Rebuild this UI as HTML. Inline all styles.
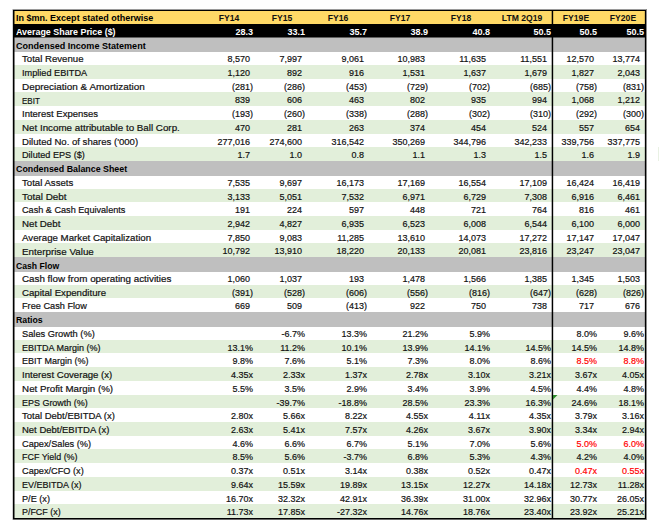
<!DOCTYPE html>
<html><head><meta charset="utf-8"><style>
html,body{margin:0;padding:0;background:#fff;width:661px;height:529px;overflow:hidden}
body{position:relative;font-family:"Liberation Sans",sans-serif;color:#111}
.lab,.num{-webkit-text-stroke:0.2px currentColor}
.bg{position:absolute;left:14.00px;width:631.00px}
.r{position:absolute;left:14.00px;width:631.00px;height:13.73px}
.r div{position:absolute;white-space:nowrap;line-height:13.73px}
.lab{left:8.10px;font-size:9.75px;top:1.05px;transform-origin:0 50%}
.sl{left:2.00px;font-size:9.90px;letter-spacing:0.00px;font-weight:bold;top:1.30px;transform:scaleX(0.915);transform-origin:0 50%}
.c{text-align:center;font-size:9.90px;font-weight:bold;top:1.30px;width:60px;transform:scaleX(0.87)}
.bn{text-align:right;font-size:9.90px;font-weight:bold;top:1.30px;width:70px;color:#fff;transform:scaleX(0.915);transform-origin:100% 50%}
.num{text-align:right;width:70px;font-size:9.90px;transform:scaleX(0.910);transform-origin:100% 50%;top:1.00px}
.red{color:#FF0000}
</style></head><body>

<div class="bg" style="top:10.08px;height:13.73px;background:#FFD966"></div>
<div class="bg" style="top:23.81px;height:13.73px;background:#000000"></div>
<div class="bg" style="top:51.27px;height:13.73px;background:#FFFFFF"></div>
<div class="bg" style="top:65.00px;height:13.73px;background:#E2EFDA"></div>
<div class="bg" style="top:78.73px;height:13.73px;background:#FFFFFF"></div>
<div class="bg" style="top:92.46px;height:13.73px;background:#E2EFDA"></div>
<div class="bg" style="top:106.19px;height:13.73px;background:#FFFFFF"></div>
<div class="bg" style="top:119.92px;height:13.73px;background:#E2EFDA"></div>
<div class="bg" style="top:133.65px;height:13.73px;background:#FFFFFF"></div>
<div class="bg" style="top:147.38px;height:13.73px;background:#E2EFDA"></div>
<div class="bg" style="top:174.84px;height:13.73px;background:#FFFFFF"></div>
<div class="bg" style="top:188.57px;height:13.73px;background:#E2EFDA"></div>
<div class="bg" style="top:202.30px;height:13.73px;background:#FFFFFF"></div>
<div class="bg" style="top:216.03px;height:13.73px;background:#E2EFDA"></div>
<div class="bg" style="top:229.76px;height:13.73px;background:#FFFFFF"></div>
<div class="bg" style="top:243.49px;height:13.73px;background:#E2EFDA"></div>
<div class="bg" style="top:270.95px;height:13.73px;background:#FFFFFF"></div>
<div class="bg" style="top:284.68px;height:13.73px;background:#E2EFDA"></div>
<div class="bg" style="top:298.41px;height:13.73px;background:#FFFFFF"></div>
<div class="bg" style="top:325.87px;height:13.73px;background:#FFFFFF"></div>
<div class="bg" style="top:339.60px;height:13.73px;background:#E2EFDA"></div>
<div class="bg" style="top:353.33px;height:13.73px;background:#FFFFFF"></div>
<div class="bg" style="top:367.06px;height:13.73px;background:#E2EFDA"></div>
<div class="bg" style="top:380.79px;height:13.73px;background:#FFFFFF"></div>
<div class="bg" style="top:394.52px;height:13.73px;background:#E2EFDA"></div>
<div class="bg" style="top:408.25px;height:13.73px;background:#FFFFFF"></div>
<div class="bg" style="top:421.98px;height:13.73px;background:#E2EFDA"></div>
<div class="bg" style="top:435.71px;height:13.73px;background:#FFFFFF"></div>
<div class="bg" style="top:449.44px;height:13.73px;background:#E2EFDA"></div>
<div class="bg" style="top:463.17px;height:13.73px;background:#FFFFFF"></div>
<div class="bg" style="top:476.90px;height:13.73px;background:#E2EFDA"></div>
<div class="bg" style="top:490.63px;height:13.73px;background:#FFFFFF"></div>
<div class="bg" style="top:504.36px;height:13.73px;background:#E2EFDA"></div>
<div class="bg" style="top:37.14px;height:14.83px;background:#BFBFBF"></div>
<div class="bg" style="top:160.71px;height:14.83px;background:#BFBFBF"></div>
<div class="bg" style="top:256.82px;height:14.83px;background:#BFBFBF"></div>
<div class="bg" style="top:311.74px;height:14.83px;background:#BFBFBF"></div>
<div class="r" style="top:10.08px">
<div class="sl" style="color:#000;transform:scaleX(0.913)">In $mn. Except stated otherwise</div>
<div class="c" style="left:184.80px">FY14</div>
<div class="c" style="left:237.90px">FY15</div>
<div class="c" style="left:294.40px">FY16</div>
<div class="c" style="left:355.70px">FY17</div>
<div class="c" style="left:416.85px">FY18</div>
<div class="c" style="left:478.30px">LTM 2Q19</div>
<div class="c" style="left:532.10px">FY19E</div>
<div class="c" style="left:578.65px">FY20E</div>
</div>
<div class="r" style="top:23.81px">
<div class="sl" style="color:#fff;transform:scaleX(0.901)">Average Share Price ($)</div>
<div class="bn" style="left:169.20px">28.3</div>
<div class="bn" style="left:221.30px">33.1</div>
<div class="bn" style="left:283.20px">35.7</div>
<div class="bn" style="left:344.30px">38.9</div>
<div class="bn" style="left:405.50px">40.8</div>
<div class="bn" style="left:466.60px">50.5</div>
<div class="bn" style="left:513.20px">50.5</div>
<div class="bn" style="left:560.00px">50.5</div>
</div>
<div class="r" style="top:37.54px">
<div class="sl" style="color:#000;transform:scaleX(0.916)">Condensed Income Statement</div>
</div>
<div class="r" style="top:51.27px">
<div class="lab" style="transform:scaleX(0.987)">Total Revenue</div>
<div class="num" style="left:165.60px">8,570</div>
<div class="num" style="left:217.70px">7,997</div>
<div class="num" style="left:279.60px">9,061</div>
<div class="num" style="left:340.70px">10,983</div>
<div class="num" style="left:401.90px">11,635</div>
<div class="num" style="left:463.00px">11,551</div>
<div class="num" style="left:509.60px">12,570</div>
<div class="num" style="left:556.40px">13,774</div>
</div>
<div class="r" style="top:65.00px">
<div class="lab" style="transform:scaleX(0.940)">Implied EBITDA</div>
<div class="num" style="left:165.60px">1,120</div>
<div class="num" style="left:217.70px">892</div>
<div class="num" style="left:279.60px">916</div>
<div class="num" style="left:340.70px">1,531</div>
<div class="num" style="left:401.90px">1,637</div>
<div class="num" style="left:463.00px">1,679</div>
<div class="num" style="left:509.60px">1,827</div>
<div class="num" style="left:556.40px">2,043</div>
</div>
<div class="r" style="top:78.73px">
<div class="lab" style="transform:scaleX(1.020)">Depreciation &amp; Amortization</div>
<div class="num" style="left:169.20px">(281)</div>
<div class="num" style="left:221.30px">(286)</div>
<div class="num" style="left:283.20px">(453)</div>
<div class="num" style="left:344.30px">(729)</div>
<div class="num" style="left:405.50px">(702)</div>
<div class="num" style="left:466.60px">(685)</div>
<div class="num" style="left:513.20px">(758)</div>
<div class="num" style="left:560.00px">(831)</div>
</div>
<div class="r" style="top:92.46px">
<div class="lab" style="transform:scaleX(0.821)">EBIT</div>
<div class="num" style="left:165.60px">839</div>
<div class="num" style="left:217.70px">606</div>
<div class="num" style="left:279.60px">463</div>
<div class="num" style="left:340.70px">802</div>
<div class="num" style="left:401.90px">935</div>
<div class="num" style="left:463.00px">994</div>
<div class="num" style="left:509.60px">1,068</div>
<div class="num" style="left:556.40px">1,212</div>
</div>
<div class="r" style="top:106.19px">
<div class="lab" style="transform:scaleX(0.975)">Interest Expenses</div>
<div class="num" style="left:169.20px">(193)</div>
<div class="num" style="left:221.30px">(260)</div>
<div class="num" style="left:283.20px">(338)</div>
<div class="num" style="left:344.30px">(288)</div>
<div class="num" style="left:405.50px">(302)</div>
<div class="num" style="left:466.60px">(310)</div>
<div class="num" style="left:513.20px">(292)</div>
<div class="num" style="left:560.00px">(300)</div>
</div>
<div class="r" style="top:119.92px">
<div class="lab" style="transform:scaleX(1.004)">Net Income attributable to Ball Corp.</div>
<div class="num" style="left:165.60px">470</div>
<div class="num" style="left:217.70px">281</div>
<div class="num" style="left:279.60px">263</div>
<div class="num" style="left:340.70px">374</div>
<div class="num" style="left:401.90px">454</div>
<div class="num" style="left:463.00px">524</div>
<div class="num" style="left:509.60px">557</div>
<div class="num" style="left:556.40px">654</div>
</div>
<div class="r" style="top:133.65px">
<div class="lab" style="transform:scaleX(0.981)">Diluted No. of shares ('000)</div>
<div class="num" style="left:165.60px">277,016</div>
<div class="num" style="left:217.70px">274,600</div>
<div class="num" style="left:279.60px">316,542</div>
<div class="num" style="left:340.70px">350,269</div>
<div class="num" style="left:401.90px">344,796</div>
<div class="num" style="left:463.00px">342,233</div>
<div class="num" style="left:509.60px">339,756</div>
<div class="num" style="left:556.40px">337,775</div>
</div>
<div class="r" style="top:147.38px">
<div class="lab" style="transform:scaleX(0.936)">Diluted EPS ($)</div>
<div class="num" style="left:165.60px">1.7</div>
<div class="num" style="left:217.70px">1.0</div>
<div class="num" style="left:279.60px">0.8</div>
<div class="num" style="left:340.70px">1.1</div>
<div class="num" style="left:401.90px">1.3</div>
<div class="num" style="left:463.00px">1.5</div>
<div class="num" style="left:509.60px">1.6</div>
<div class="num" style="left:556.40px">1.9</div>
</div>
<div class="r" style="top:161.11px">
<div class="sl" style="color:#000;transform:scaleX(0.896)">Condensed Balance Sheet</div>
</div>
<div class="r" style="top:174.84px">
<div class="lab" style="transform:scaleX(0.986)">Total Assets</div>
<div class="num" style="left:165.60px">7,535</div>
<div class="num" style="left:217.70px">9,697</div>
<div class="num" style="left:279.60px">16,173</div>
<div class="num" style="left:340.70px">17,169</div>
<div class="num" style="left:401.90px">16,554</div>
<div class="num" style="left:463.00px">17,109</div>
<div class="num" style="left:509.60px">16,424</div>
<div class="num" style="left:556.40px">16,419</div>
</div>
<div class="r" style="top:188.57px">
<div class="lab" style="transform:scaleX(1.014)">Total Debt</div>
<div class="num" style="left:165.60px">3,133</div>
<div class="num" style="left:217.70px">5,051</div>
<div class="num" style="left:279.60px">7,532</div>
<div class="num" style="left:340.70px">6,971</div>
<div class="num" style="left:401.90px">6,729</div>
<div class="num" style="left:463.00px">7,308</div>
<div class="num" style="left:509.60px">6,916</div>
<div class="num" style="left:556.40px">6,461</div>
</div>
<div class="r" style="top:202.30px">
<div class="lab" style="transform:scaleX(0.935)">Cash &amp; Cash Equivalents</div>
<div class="num" style="left:165.60px">191</div>
<div class="num" style="left:217.70px">224</div>
<div class="num" style="left:279.60px">597</div>
<div class="num" style="left:340.70px">448</div>
<div class="num" style="left:401.90px">721</div>
<div class="num" style="left:463.00px">764</div>
<div class="num" style="left:509.60px">816</div>
<div class="num" style="left:556.40px">461</div>
</div>
<div class="r" style="top:216.03px">
<div class="lab" style="transform:scaleX(0.998)">Net Debt</div>
<div class="num" style="left:165.60px">2,942</div>
<div class="num" style="left:217.70px">4,827</div>
<div class="num" style="left:279.60px">6,935</div>
<div class="num" style="left:340.70px">6,523</div>
<div class="num" style="left:401.90px">6,008</div>
<div class="num" style="left:463.00px">6,544</div>
<div class="num" style="left:509.60px">6,100</div>
<div class="num" style="left:556.40px">6,000</div>
</div>
<div class="r" style="top:229.76px">
<div class="lab" style="transform:scaleX(0.994)">Average Market Capitalization</div>
<div class="num" style="left:165.60px">7,850</div>
<div class="num" style="left:217.70px">9,083</div>
<div class="num" style="left:279.60px">11,285</div>
<div class="num" style="left:340.70px">13,610</div>
<div class="num" style="left:401.90px">14,073</div>
<div class="num" style="left:463.00px">17,272</div>
<div class="num" style="left:509.60px">17,147</div>
<div class="num" style="left:556.40px">17,047</div>
</div>
<div class="r" style="top:243.49px">
<div class="lab" style="transform:scaleX(1.006)">Enterprise Value</div>
<div class="num" style="left:165.60px">10,792</div>
<div class="num" style="left:217.70px">13,910</div>
<div class="num" style="left:279.60px">18,220</div>
<div class="num" style="left:340.70px">20,133</div>
<div class="num" style="left:401.90px">20,081</div>
<div class="num" style="left:463.00px">23,816</div>
<div class="num" style="left:509.60px">23,247</div>
<div class="num" style="left:556.40px">23,047</div>
</div>
<div class="r" style="top:257.22px">
<div class="sl" style="color:#000;transform:scaleX(0.873)">Cash Flow</div>
</div>
<div class="r" style="top:270.95px">
<div class="lab" style="transform:scaleX(1.006)">Cash flow from operating activities</div>
<div class="num" style="left:165.60px">1,060</div>
<div class="num" style="left:217.70px">1,037</div>
<div class="num" style="left:279.60px">193</div>
<div class="num" style="left:340.70px">1,478</div>
<div class="num" style="left:401.90px">1,566</div>
<div class="num" style="left:463.00px">1,385</div>
<div class="num" style="left:509.60px">1,345</div>
<div class="num" style="left:556.40px">1,503</div>
</div>
<div class="r" style="top:284.68px">
<div class="lab" style="transform:scaleX(0.988)">Capital Expenditure</div>
<div class="num" style="left:169.20px">(391)</div>
<div class="num" style="left:221.30px">(528)</div>
<div class="num" style="left:283.20px">(606)</div>
<div class="num" style="left:344.30px">(556)</div>
<div class="num" style="left:405.50px">(816)</div>
<div class="num" style="left:466.60px">(647)</div>
<div class="num" style="left:513.20px">(628)</div>
<div class="num" style="left:560.00px">(826)</div>
</div>
<div class="r" style="top:298.41px">
<div class="lab" style="transform:scaleX(0.942)">Free Cash Flow</div>
<div class="num" style="left:165.60px">669</div>
<div class="num" style="left:217.70px">509</div>
<div class="num" style="left:283.20px">(413)</div>
<div class="num" style="left:340.70px">922</div>
<div class="num" style="left:401.90px">750</div>
<div class="num" style="left:463.00px">738</div>
<div class="num" style="left:509.60px">717</div>
<div class="num" style="left:556.40px">676</div>
</div>
<div class="r" style="top:312.14px">
<div class="sl" style="color:#000;transform:scaleX(0.886)">Ratios</div>
</div>
<div class="r" style="top:325.87px">
<div class="lab" style="transform:scaleX(0.952)">Sales Growth (%)</div>
<div class="num" style="left:221.30px">-6.7%</div>
<div class="num" style="left:283.20px">13.3%</div>
<div class="num" style="left:344.30px">21.2%</div>
<div class="num" style="left:405.50px">5.9%</div>
<div class="num" style="left:513.20px">8.0%</div>
<div class="num" style="left:560.00px">9.6%</div>
</div>
<div class="r" style="top:339.60px">
<div class="lab" style="transform:scaleX(0.924)">EBITDA Margin (%)</div>
<div class="num" style="left:169.20px">13.1%</div>
<div class="num" style="left:221.30px">11.2%</div>
<div class="num" style="left:283.20px">10.1%</div>
<div class="num" style="left:344.30px">13.9%</div>
<div class="num" style="left:405.50px">14.1%</div>
<div class="num" style="left:466.60px">14.5%</div>
<div class="num" style="left:513.20px">14.5%</div>
<div class="num" style="left:560.00px">14.8%</div>
</div>
<div class="r" style="top:353.33px">
<div class="lab" style="transform:scaleX(0.925)">EBIT Margin (%)</div>
<div class="num" style="left:169.20px">9.8%</div>
<div class="num" style="left:221.30px">7.6%</div>
<div class="num" style="left:283.20px">5.1%</div>
<div class="num" style="left:344.30px">7.3%</div>
<div class="num" style="left:405.50px">8.0%</div>
<div class="num" style="left:466.60px">8.6%</div>
<div class="num red" style="left:513.20px">8.5%</div>
<div class="num red" style="left:560.00px">8.8%</div>
</div>
<div class="r" style="top:367.06px">
<div class="lab" style="transform:scaleX(0.986)">Interest Coverage (x)</div>
<div class="num" style="left:169.20px">4.35x</div>
<div class="num" style="left:221.30px">2.33x</div>
<div class="num" style="left:283.20px">1.37x</div>
<div class="num" style="left:344.30px">2.78x</div>
<div class="num" style="left:405.50px">3.10x</div>
<div class="num" style="left:466.60px">3.21x</div>
<div class="num" style="left:513.20px">3.67x</div>
<div class="num" style="left:560.00px">4.05x</div>
</div>
<div class="r" style="top:380.79px">
<div class="lab" style="transform:scaleX(1.000)">Net Profit Margin (%)</div>
<div class="num" style="left:169.20px">5.5%</div>
<div class="num" style="left:221.30px">3.5%</div>
<div class="num" style="left:283.20px">2.9%</div>
<div class="num" style="left:344.30px">3.4%</div>
<div class="num" style="left:405.50px">3.9%</div>
<div class="num" style="left:466.60px">4.5%</div>
<div class="num" style="left:513.20px">4.4%</div>
<div class="num" style="left:560.00px">4.8%</div>
</div>
<div class="r" style="top:394.52px">
<div class="lab" style="transform:scaleX(0.919)">EPS Growth (%)</div>
<div class="num" style="left:221.30px">-39.7%</div>
<div class="num" style="left:283.20px">-18.8%</div>
<div class="num" style="left:344.30px">28.5%</div>
<div class="num" style="left:405.50px">23.3%</div>
<div class="num" style="left:466.60px">16.3%</div>
<div class="num" style="left:513.20px">24.6%</div>
<div class="num" style="left:560.00px">18.1%</div>
</div>
<div class="r" style="top:408.25px">
<div class="lab" style="transform:scaleX(0.974)">Total Debt/EBITDA (x)</div>
<div class="num" style="left:169.20px">2.80x</div>
<div class="num" style="left:221.30px">5.66x</div>
<div class="num" style="left:283.20px">8.22x</div>
<div class="num" style="left:344.30px">4.55x</div>
<div class="num" style="left:405.50px">4.11x</div>
<div class="num" style="left:466.60px">4.35x</div>
<div class="num" style="left:513.20px">3.79x</div>
<div class="num" style="left:560.00px">3.16x</div>
</div>
<div class="r" style="top:421.98px">
<div class="lab" style="transform:scaleX(0.972)">Net Debt/EBITDA (x)</div>
<div class="num" style="left:169.20px">2.63x</div>
<div class="num" style="left:221.30px">5.41x</div>
<div class="num" style="left:283.20px">7.57x</div>
<div class="num" style="left:344.30px">4.26x</div>
<div class="num" style="left:405.50px">3.67x</div>
<div class="num" style="left:466.60px">3.90x</div>
<div class="num" style="left:513.20px">3.34x</div>
<div class="num" style="left:560.00px">2.94x</div>
</div>
<div class="r" style="top:435.71px">
<div class="lab" style="transform:scaleX(0.943)">Capex/Sales (%)</div>
<div class="num" style="left:169.20px">4.6%</div>
<div class="num" style="left:221.30px">6.6%</div>
<div class="num" style="left:283.20px">6.7%</div>
<div class="num" style="left:344.30px">5.1%</div>
<div class="num" style="left:405.50px">7.0%</div>
<div class="num" style="left:466.60px">5.6%</div>
<div class="num red" style="left:513.20px">5.0%</div>
<div class="num red" style="left:560.00px">6.0%</div>
</div>
<div class="r" style="top:449.44px">
<div class="lab" style="transform:scaleX(0.915)">FCF Yield (%)</div>
<div class="num" style="left:169.20px">8.5%</div>
<div class="num" style="left:221.30px">5.6%</div>
<div class="num" style="left:283.20px">-3.7%</div>
<div class="num" style="left:344.30px">6.8%</div>
<div class="num" style="left:405.50px">5.3%</div>
<div class="num" style="left:466.60px">4.3%</div>
<div class="num" style="left:513.20px">4.2%</div>
<div class="num" style="left:560.00px">4.0%</div>
</div>
<div class="r" style="top:463.17px">
<div class="lab" style="transform:scaleX(0.941)">Capex/CFO (x)</div>
<div class="num" style="left:169.20px">0.37x</div>
<div class="num" style="left:221.30px">0.51x</div>
<div class="num" style="left:283.20px">3.14x</div>
<div class="num" style="left:344.30px">0.38x</div>
<div class="num" style="left:405.50px">0.52x</div>
<div class="num" style="left:466.60px">0.47x</div>
<div class="num red" style="left:513.20px">0.47x</div>
<div class="num red" style="left:560.00px">0.55x</div>
</div>
<div class="r" style="top:476.90px">
<div class="lab" style="transform:scaleX(0.923)">EV/EBITDA (x)</div>
<div class="num" style="left:169.20px">9.64x</div>
<div class="num" style="left:221.30px">15.59x</div>
<div class="num" style="left:283.20px">19.89x</div>
<div class="num" style="left:344.30px">13.15x</div>
<div class="num" style="left:405.50px">12.27x</div>
<div class="num" style="left:466.60px">14.18x</div>
<div class="num" style="left:513.20px">12.73x</div>
<div class="num" style="left:560.00px">11.28x</div>
</div>
<div class="r" style="top:490.63px">
<div class="lab" style="transform:scaleX(0.940)">P/E (x)</div>
<div class="num" style="left:169.20px">16.70x</div>
<div class="num" style="left:221.30px">32.32x</div>
<div class="num" style="left:283.20px">42.91x</div>
<div class="num" style="left:344.30px">36.39x</div>
<div class="num" style="left:405.50px">31.00x</div>
<div class="num" style="left:466.60px">32.96x</div>
<div class="num" style="left:513.20px">30.77x</div>
<div class="num" style="left:560.00px">26.05x</div>
</div>
<div class="r" style="top:504.36px">
<div class="lab" style="transform:scaleX(0.914)">P/FCF (x)</div>
<div class="num" style="left:169.20px">11.73x</div>
<div class="num" style="left:221.30px">17.85x</div>
<div class="num" style="left:283.20px">-27.32x</div>
<div class="num" style="left:344.30px">14.76x</div>
<div class="num" style="left:405.50px">18.76x</div>
<div class="num" style="left:466.60px">23.40x</div>
<div class="num" style="left:513.20px">23.92x</div>
<div class="num" style="left:560.00px">25.21x</div>
</div>
<div style="position:absolute;left:14px;top:37px;width:631px;height:1px;background:#606060"></div>
<div style="position:absolute;left:12px;top:9px;width:635px;height:1px;background:#9a9a9a"></div>
<div style="position:absolute;left:12px;top:519px;width:635px;height:1px;background:#6a6a6a"></div>
<div style="position:absolute;left:12px;top:9px;width:1px;height:511px;background:#cfcfcf"></div>
<div style="position:absolute;left:646px;top:9px;width:1px;height:511px;background:#8a8a8a"></div>
<div style="position:absolute;left:13px;top:10px;width:633px;height:1px;background:#000"></div>
<div style="position:absolute;left:13px;top:518px;width:633px;height:1px;background:#000"></div>
<div style="position:absolute;left:13px;top:10px;width:1px;height:509px;background:#000"></div>
<div style="position:absolute;left:645px;top:10px;width:1px;height:509px;background:#000"></div>
<div style="position:absolute;left:14px;top:11px;width:1px;height:507px;background:rgba(0,0,0,0.5)"></div>
<div style="position:absolute;left:644px;top:11px;width:1px;height:507px;background:rgba(0,0,0,0.15)"></div>
<div style="position:absolute;left:551px;top:11px;width:1px;height:507px;background:rgba(0,0,0,0.3)"></div>
<div style="position:absolute;left:553px;top:11px;width:1px;height:507px;background:rgba(0,0,0,0.18)"></div>
<div style="position:absolute;left:552px;top:10px;width:1px;height:509px;background:#000"></div>
<div style="position:absolute;left:658px;top:147px;width:1px;height:14px;background:#e9f1e4"></div>
<svg style="position:absolute;left:553.3px;top:395.2px" width="5" height="5"><path d="M0 0H4.5L0 4.5Z" fill="#2E8B2E"/></svg>
</body></html>
